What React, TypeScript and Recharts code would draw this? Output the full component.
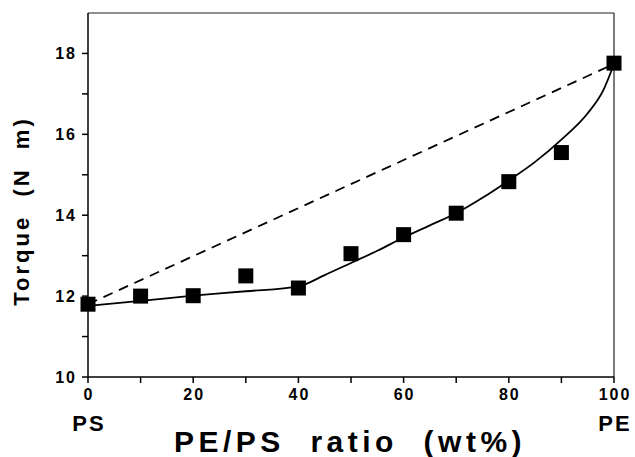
import React from 'react';
import { ComposedChart, Line, Scatter, XAxis, YAxis, ReferenceLine, Label } from 'recharts';

// Measured data (PE content in wt%, torque in N m)
const ratios = [0, 10, 20, 30, 40, 50, 60, 70, 80, 90, 100];
const torque = [11.8, 12.0, 12.01, 12.5, 12.2, 13.05, 13.52, 14.05, 14.83, 15.55, 17.76];

// Fitted solid curve
const fitRatios = [0, 10, 20, 30, 40, 45, 50, 55, 60, 65, 70, 75, 80, 85, 90, 95, 98, 100];
const fitTorque = [11.76, 11.88, 12.01, 12.12, 12.24, 12.52, 12.82, 13.12, 13.45, 13.75, 14.05, 14.43, 14.86, 15.32, 15.87, 16.52, 17.1, 17.74];

// Additivity (dashed) line
const additiveRatios = [0, 100];
const additiveTorque = [11.8, 17.74];

const xTicks = [0, 10, 20, 30, 40, 50, 60, 70, 80, 90, 100];
const xTickLabels = [0, 20, 40, 60, 80, 100];
const yTicks = [10, 11, 12, 13, 14, 15, 16, 17, 18];
const yTickLabels = [10, 12, 14, 16, 18];
const endTickValues = [0, 100];
const endTickNames = ['PS', 'PE'];

const xTitle = 'PE/PS\u00a0\u00a0ratio\u00a0\u00a0(wt%)';
const yTitle = 'Torque\u00a0\u00a0(N\u00a0\u00a0m)';

const pointData = ratios.map((x, i) => ({ x, y: torque[i] }));
const fitData = fitRatios.map((x, i) => ({ x, y: fitTorque[i] }));
const additiveData = additiveRatios.map((x, i) => ({ x, y: additiveTorque[i] }));

const FONT = '"Liberation Sans", Arial, Helvetica, sans-serif';

const XTick = (props: any) => {
  const { x, y, payload } = props;
  const v = payload.value;
  const endIdx = endTickValues.indexOf(v);
  return (
    <g>
      {xTickLabels.includes(v) && (
        <text x={x + 1} y={y + 17} textAnchor="middle" fontFamily={FONT} fontWeight="bold" fontSize={16} letterSpacing={2} fill="#000">
          {v}
        </text>
      )}
      {endIdx >= 0 && (
        <text x={x + 1} y={y + 48} textAnchor="middle" fontFamily={FONT} fontWeight="bold" fontSize={22} letterSpacing={2} fill="#000">
          {endTickNames[endIdx]}
        </text>
      )}
    </g>
  );
};

const YTick = (props: any) => {
  const { x, y, payload } = props;
  const v = payload.value;
  if (!yTickLabels.includes(v)) return <g />;
  return (
    <text x={x - 5} y={y + 6} textAnchor="end" fontFamily={FONT} fontWeight="bold" fontSize={16} letterSpacing={2} fill="#000">
      {v}
    </text>
  );
};

const Square = (props: any) => {
  const { cx, cy } = props;
  if (cx == null || cy == null) return <g />;
  return <rect x={cx - 7.5} y={cy - 7.5} width={15} height={15} fill="#000" />;
};

const XTitle = () => (
  <text x={350} y={452} textAnchor="middle" fontFamily={FONT} fontWeight="bold" fontSize={30} letterSpacing={4.5} fill="#000">
    {xTitle}
  </text>
);

const YTitle = () => (
  <text x={0} y={0} transform="translate(29,211) rotate(-90)" textAnchor="middle" fontFamily={FONT} fontWeight="bold" fontSize={22} letterSpacing={3} fill="#000">
    {yTitle}
  </text>
);

export default function App() {
  return (
    <div style={{ position: 'absolute', left: 0, top: 0, width: 635, height: 457, background: '#fff' }}>
      <ComposedChart width={635} height={457} margin={{ top: 13, right: 21, bottom: 0, left: 0 }}>
        <XAxis
          dataKey="x"
          type="number"
          domain={[0, 100]}
          ticks={xTicks}
          interval={0}
          height={80}
          tickSize={6}
          tickMargin={0}
          tick={<XTick />}
          stroke="#000"
          strokeWidth={1.5}
        >
          <Label content={<XTitle />} />
        </XAxis>
        <YAxis
          dataKey="y"
          type="number"
          domain={[10, 19]}
          ticks={yTicks}
          interval={0}
          width={88}
          tickSize={6}
          tickMargin={0}
          tick={<YTick />}
          stroke="#000"
          strokeWidth={1.5}
        >
          <Label content={<YTitle />} />
        </YAxis>
        <ReferenceLine y={19} stroke="#222" strokeWidth={1.2} />
        <ReferenceLine x={100} stroke="#222" strokeWidth={1.2} />
        <Line data={additiveData} dataKey="y" type="linear" stroke="#000" strokeWidth={1.8} strokeDasharray="10 7" dot={false} activeDot={false} isAnimationActive={false} />
        <Line data={fitData} dataKey="y" type="monotone" stroke="#000" strokeWidth={1.8} dot={false} activeDot={false} isAnimationActive={false} />
        <Scatter data={pointData} dataKey="y" shape={<Square />} isAnimationActive={false} />
      </ComposedChart>
    </div>
  );
}
